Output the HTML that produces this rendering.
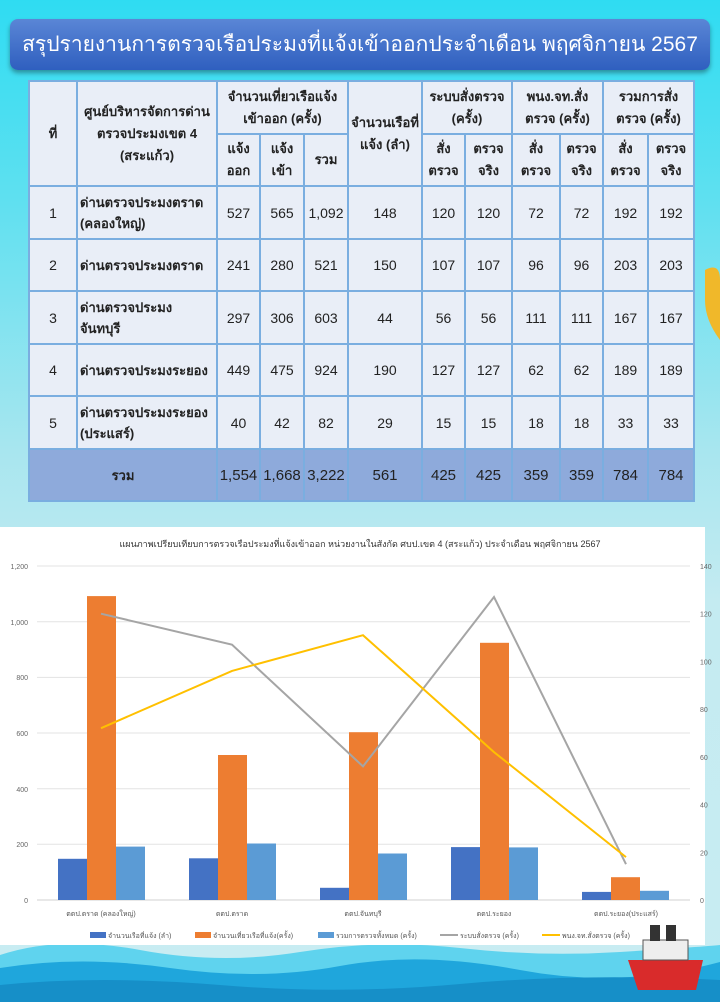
<!DOCTYPE html>
<html><head><meta charset="utf-8">
<style>
*{margin:0;padding:0;box-sizing:border-box}
body{width:720px;height:1002px;overflow:hidden;position:relative;font-family:"Liberation Sans","Noto Sans CJK SC",sans-serif;
background:linear-gradient(180deg,#2fdcf2 0%,#5fe0f0 20%,#a8e6ef 45%,#c4ebf1 60%,#c8ecf2 100%);}
.title{position:absolute;left:10px;top:19px;width:700px;height:51px;border-radius:8px;
background:linear-gradient(180deg,#5a86d6,#2f5fbf);box-shadow:0 3px 5px rgba(0,0,0,.35);
color:#fff;font-size:21px;text-align:center;line-height:51px;white-space:nowrap;overflow:hidden;font-family:"Liberation Sans","Noto Sans CJK SC",sans-serif;}
table{position:absolute;left:28px;top:80px;border-collapse:collapse;table-layout:fixed;font-family:"Liberation Sans","Noto Sans CJK SC",sans-serif;}
td{border:2px solid #7aaee0;background:#e9eef7;text-align:center;font-size:14px;color:#222;padding:0;}
td.l{text-align:left;padding-left:2px;font-weight:bold;font-size:13px}
.tot td{background:#8eaadb;font-size:15px;}
.hd td{font-weight:bold;font-size:13px;line-height:22px}
</style></head><body>
<div class="title">สรุปรายงานการตรวจเรือประมงที่แจ้งเข้าออกประจำเดือน พฤศจิกายน 2567</div>
<table>
<colgroup><col style="width:48px"><col style="width:140px"><col style="width:43px"><col style="width:44px"><col style="width:44px"><col style="width:74px"><col style="width:43px"><col style="width:47px"><col style="width:48px"><col style="width:43px"><col style="width:45px"><col style="width:46px"></colgroup>
<tr class="hd" style="height:53px"><td rowspan="2">ที่</td><td rowspan="2">ศูนย์บริหารจัดการด่าน<br>ตรวจประมงเขต 4<br>(สระแก้ว)</td><td colspan="3">จำนวนเที่ยวเรือแจ้ง<br>เข้าออก (ครั้ง)</td><td rowspan="2">จำนวนเรือที่<br>แจ้ง (ลำ)</td><td colspan="2">ระบบสั่งตรวจ<br>(ครั้ง)</td><td colspan="2">พนง.จท.สั่ง<br>ตรวจ (ครั้ง)</td><td colspan="2">รวมการสั่ง<br>ตรวจ (ครั้ง)</td></tr>
<tr class="hd" style="height:52px"><td>แจ้ง<br>ออก</td><td>แจ้ง<br>เข้า</td><td>รวม</td><td>สั่ง<br>ตรวจ</td><td>ตรวจ<br>จริง</td><td>สั่ง<br>ตรวจ</td><td>ตรวจ<br>จริง</td><td>สั่ง<br>ตรวจ</td><td>ตรวจ<br>จริง</td></tr>
<tr style="height:53px"><td>1</td><td class="l">ด่านตรวจประมงตราด<br>(คลองใหญ่)</td><td>527</td><td>565</td><td>1,092</td><td>148</td><td>120</td><td>120</td><td>72</td><td>72</td><td>192</td><td>192</td></tr>
<tr style="height:52px"><td>2</td><td class="l">ด่านตรวจประมงตราด</td><td>241</td><td>280</td><td>521</td><td>150</td><td>107</td><td>107</td><td>96</td><td>96</td><td>203</td><td>203</td></tr>
<tr style="height:53px"><td>3</td><td class="l">ด่านตรวจประมง<br>จันทบุรี</td><td>297</td><td>306</td><td>603</td><td>44</td><td>56</td><td>56</td><td>111</td><td>111</td><td>167</td><td>167</td></tr>
<tr style="height:52px"><td>4</td><td class="l">ด่านตรวจประมงระยอง</td><td>449</td><td>475</td><td>924</td><td>190</td><td>127</td><td>127</td><td>62</td><td>62</td><td>189</td><td>189</td></tr>
<tr style="height:53px"><td>5</td><td class="l">ด่านตรวจประมงระยอง<br>(ประแสร์)</td><td>40</td><td>42</td><td>82</td><td>29</td><td>15</td><td>15</td><td>18</td><td>18</td><td>33</td><td>33</td></tr>
<tr class="tot" style="height:52px"><td colspan="2" style="font-weight:bold;font-size:13px">รวม</td><td>1,554</td><td>1,668</td><td>3,222</td><td>561</td><td>425</td><td>425</td><td>359</td><td>359</td><td>784</td><td>784</td></tr>
</table>
<svg style="position:absolute;left:0;top:0" width="720" height="1002" font-family="Liberation Sans, Noto Sans CJK SC, sans-serif">
<path d="M0 955 Q60 935 140 950 T300 952 T460 948 T620 952 T720 945 V1002 H0Z" fill="#5fd3ee"/>
<path d="M0 968 Q80 955 170 968 T340 966 T520 970 T720 962 V1002 H0Z" fill="#1fa6dc"/>
<path d="M0 985 Q100 975 220 985 T460 984 T720 980 V1002 H0Z" fill="#168fc8"/>
<rect x="0" y="527" width="705" height="418" fill="#fff"/>
<text x="360" y="547" font-size="9" text-anchor="middle" fill="#333">แผนภาพเปรียบเทียบการตรวจเรือประมงที่แจ้งเข้าออก หน่วยงานในสังกัด ศบป.เขต 4 (สระแก้ว) ประจำเดือน พฤศจิกายน 2567</text>
<g stroke="#e3e3e3" stroke-width="1">
<line x1="37" x2="690" y1="566" y2="566"/><line x1="37" x2="690" y1="621.7" y2="621.7"/><line x1="37" x2="690" y1="677.4" y2="677.4"/><line x1="37" x2="690" y1="733" y2="733"/><line x1="37" x2="690" y1="788.7" y2="788.7"/><line x1="37" x2="690" y1="844.3" y2="844.3"/><line x1="37" x2="690" y1="900" y2="900" stroke="#d0d0d0"/>
</g>
<g font-size="7" fill="#666" text-anchor="end">
<text x="28" y="569">1,200</text><text x="28" y="625">1,000</text><text x="28" y="680">800</text><text x="28" y="736">600</text><text x="28" y="792">400</text><text x="28" y="847">200</text><text x="28" y="903">0</text>
</g>
<g font-size="7" fill="#666">
<text x="700" y="569">140</text><text x="700" y="616.7">120</text><text x="700" y="664.4">100</text><text x="700" y="712.1">80</text><text x="700" y="759.9">60</text><text x="700" y="807.6">40</text><text x="700" y="855.3">20</text><text x="700" y="903">0</text>
</g>
<g fill="#4472C4">
<rect x="58" y="858.8" width="29" height="41.2"/><rect x="189" y="858.3" width="29" height="41.7"/><rect x="320" y="887.8" width="29" height="12.2"/><rect x="451" y="847.1" width="29" height="52.9"/><rect x="582" y="891.9" width="29" height="8.1"/>
</g>
<g fill="#ED7D31">
<rect x="87" y="596.1" width="29" height="303.9"/><rect x="218" y="755" width="29" height="145"/><rect x="349" y="732.2" width="29" height="167.8"/><rect x="480" y="642.8" width="29" height="257.2"/><rect x="611" y="877.2" width="29" height="22.8"/>
</g>
<g fill="#5B9BD5">
<rect x="116" y="846.6" width="29" height="53.4"/><rect x="247" y="843.5" width="29" height="56.5"/><rect x="378" y="853.5" width="29" height="46.5"/><rect x="509" y="847.4" width="29" height="52.6"/><rect x="640" y="890.8" width="29" height="9.2"/>
</g>
<polyline points="101,613.7 232,644.7 363,766.4 494,597 626,864.2" fill="none" stroke="#A5A5A5" stroke-width="2"/>
<polyline points="101,728.2 232,670.9 363,635.2 494,752.1 626,857.1" fill="none" stroke="#FFC000" stroke-width="2"/>
<g font-size="7" fill="#555" text-anchor="middle">
<text x="101" y="916">ตตป.ตราด (คลองใหญ่)</text><text x="232" y="916">ตตป.ตราด</text><text x="363" y="916">ตตป.จันทบุรี</text><text x="494" y="916">ตตป.ระยอง</text><text x="626" y="916">ตตป.ระยอง(ประแสร์)</text>
</g>
<g font-size="7" fill="#555">
<rect x="90" y="932" width="16" height="6" fill="#4472C4"/><text x="108" y="938">จำนวนเรือที่แจ้ง (ลำ)</text>
<rect x="195" y="932" width="16" height="6" fill="#ED7D31"/><text x="213" y="938">จำนวนเที่ยวเรือที่แจ้ง(ครั้ง)</text>
<rect x="318" y="932" width="16" height="6" fill="#5B9BD5"/><text x="336" y="938">รวมการตรวจทั้งหมด (ครั้ง)</text>
<line x1="440" x2="458" y1="935" y2="935" stroke="#A5A5A5" stroke-width="2"/><text x="460" y="938">ระบบสั่งตรวจ (ครั้ง)</text>
<line x1="542" x2="560" y1="935" y2="935" stroke="#FFC000" stroke-width="2"/><text x="562" y="938">พนง.จท.สั่งตรวจ (ครั้ง)</text>
</g>
<g transform="translate(668,955)">
<path d="M-40 5 L35 5 L28 35 L-30 35Z" fill="#d92b2b"/>
<rect x="-25" y="-15" width="45" height="20" fill="#eee" stroke="#555"/>
<rect x="-18" y="-30" width="10" height="16" fill="#333"/><rect x="-2" y="-30" width="10" height="16" fill="#333"/>
</g>
<path d="M705 270 Q720 262 720 280 L720 340 Q705 320 705 300Z" fill="#f0b82a"/>
</svg>
</body></html>
